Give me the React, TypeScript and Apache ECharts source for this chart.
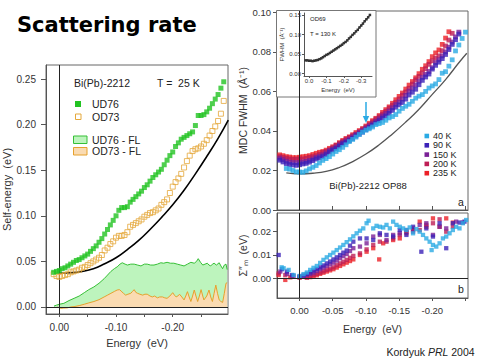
import React, { useEffect, useRef } from "react";
import * as echarts from "echarts";

// ---------- Left panel: self-energy, Bi(Pb)-2212, T = 25 K ----------
const E_LEFT = [0.010, 0.005, 0.000, -0.005, -0.010, -0.015, -0.020, -0.025, -0.030, -0.035, -0.040, -0.045, -0.050, -0.055, -0.060, -0.065, -0.070, -0.075, -0.080, -0.085, -0.090, -0.095, -0.100, -0.105, -0.110, -0.115, -0.120, -0.125, -0.130, -0.135, -0.140, -0.145, -0.150, -0.155, -0.160, -0.165, -0.170, -0.175, -0.180, -0.185, -0.190, -0.195, -0.200, -0.205, -0.210, -0.215, -0.220, -0.225, -0.230, -0.235, -0.240, -0.245, -0.250, -0.255, -0.260, -0.265, -0.270, -0.275, -0.280, -0.285, -0.290];
const UD76 = [0.038, 0.039, 0.040, 0.042, 0.043, 0.045, 0.047, 0.049, 0.051, 0.052, 0.054, 0.056, 0.058, 0.061, 0.064, 0.067, 0.071, 0.075, 0.080, 0.085, 0.090, 0.095, 0.100, 0.106, 0.109, 0.109, 0.110, 0.115, 0.118, 0.121, 0.124, 0.127, 0.131, 0.134, 0.138, 0.142, 0.145, 0.148, 0.151, 0.156, 0.161, 0.166, 0.170, 0.176, 0.180, 0.184, 0.186, 0.188, 0.190, 0.192, 0.199, 0.210, 0.210, 0.211, 0.214, 0.218, 0.223, 0.228, 0.233, 0.240, 0.247];
const OD73 = [0.036, 0.034, 0.033, 0.034, 0.035, 0.036, 0.038, 0.039, 0.040, 0.041, 0.043, 0.044, 0.046, 0.048, 0.050, 0.052, 0.054, 0.057, 0.062, 0.065, 0.069, 0.072, 0.076, 0.078, 0.078, 0.079, 0.082, 0.088, 0.090, 0.092, 0.094, 0.096, 0.099, 0.101, 0.103, 0.104, 0.106, 0.108, 0.112, 0.115, 0.118, 0.125, 0.132, 0.137, 0.141, 0.146, 0.153, 0.160, 0.166, 0.171, 0.173, 0.174, 0.176, 0.179, 0.183, 0.188, 0.193, 0.198, 0.204, 0.212, 0.226];
const FIT_LEFT_E = [0.0, -0.02, -0.04, -0.06, -0.08, -0.10, -0.12, -0.14, -0.16, -0.18, -0.20, -0.22, -0.24, -0.26, -0.28, -0.298];
const FIT_LEFT = [0.037, 0.0375, 0.039, 0.042, 0.0475, 0.054, 0.063, 0.073, 0.085, 0.098, 0.112, 0.128, 0.146, 0.165, 0.185, 0.205];
const UD76_FL: number[][] = [[0.0094, 0.001], [0.005, 0.002], [0, 0.003], [-0.008, 0.004], [-0.017, 0.007], [-0.026, 0.0095], [-0.035, 0.012], [-0.044, 0.0157], [-0.052, 0.019], [-0.061, 0.022], [-0.07, 0.026], [-0.079, 0.031], [-0.085, 0.035], [-0.091, 0.039], [-0.097, 0.042], [-0.102, 0.044], [-0.107, 0.047], [-0.111, 0.0485], [-0.116, 0.047], [-0.12, 0.046], [-0.126, 0.047], [-0.132, 0.047], [-0.138, 0.046], [-0.144, 0.045], [-0.15, 0.047], [-0.155, 0.047], [-0.161, 0.046], [-0.167, 0.046], [-0.173, 0.047], [-0.179, 0.0485], [-0.184, 0.048], [-0.19, 0.049], [-0.196, 0.048], [-0.202, 0.048], [-0.208, 0.047], [-0.214, 0.046], [-0.22, 0.045], [-0.226, 0.047], [-0.232, 0.049], [-0.238, 0.048], [-0.242, 0.05], [-0.245, 0.053], [-0.249, 0.049], [-0.253, 0.046], [-0.257, 0.047], [-0.261, 0.048], [-0.264, 0.046], [-0.267, 0.045], [-0.27, 0.047], [-0.273, 0.048], [-0.277, 0.046], [-0.282, 0.0485], [-0.285, 0.045], [-0.288, 0.042], [-0.291, 0.046], [-0.294, 0.047], [-0.296, 0.041]];
const OD73_FL: number[][] = [[0.0035, 0], [-0.002, -0.0015], [-0.008, -0.0012], [-0.014, -0.001], [-0.02, 0], [-0.026, 0.0004], [-0.035, 0.0015], [-0.044, 0.003], [-0.052, 0.0045], [-0.061, 0.006], [-0.07, 0.008], [-0.079, 0.011], [-0.085, 0.013], [-0.091, 0.015], [-0.097, 0.017], [-0.102, 0.0186], [-0.106, 0.019], [-0.109, 0.0175], [-0.113, 0.015], [-0.117, 0.013], [-0.121, 0.014], [-0.126, 0.015], [-0.129, 0.017], [-0.132, 0.019], [-0.135, 0.016], [-0.138, 0.015], [-0.142, 0.014], [-0.147, 0.013], [-0.151, 0.014], [-0.155, 0.014], [-0.16, 0.012], [-0.164, 0.011], [-0.168, 0.012], [-0.173, 0.01], [-0.177, 0.011], [-0.182, 0.011], [-0.186, 0.01], [-0.19, 0.0095], [-0.195, 0.012], [-0.2, 0.0157], [-0.203, 0.013], [-0.206, 0.011], [-0.209, 0.012], [-0.212, 0.014], [-0.216, 0.011], [-0.22, 0.0077], [-0.223, 0.012], [-0.226, 0.0168], [-0.229, 0.011], [-0.232, 0.006], [-0.235, 0.012], [-0.238, 0.0186], [-0.241, 0.012], [-0.244, 0.006], [-0.247, 0.012], [-0.25, 0.019], [-0.253, 0.012], [-0.255, 0.0077], [-0.26, 0.012], [-0.264, 0.0186], [-0.267, 0.011], [-0.27, 0.006], [-0.273, 0.015], [-0.276, 0.024], [-0.279, 0.015], [-0.282, 0.0077], [-0.285, 0.006], [-0.288, 0.005], [-0.291, 0.015], [-0.294, 0.026], [-0.296, 0.0266]];

// ---------- Right panel a: MDC FWHM, Bi(Pb)-2212 OP88 ----------
const E_A = [0.03, 0.02, 0.01, 0.0, -0.01, -0.02, -0.03, -0.04, -0.05, -0.06, -0.07, -0.08, -0.09, -0.10, -0.11, -0.12, -0.13, -0.14, -0.15, -0.16, -0.17, -0.18, -0.19, -0.20, -0.21, -0.22, -0.23, -0.24, -0.25];
const K40_A = [null, 0.0210, 0.0200, 0.0192, 0.0198, 0.0216, 0.0238, 0.0260, 0.0283, 0.0305, 0.0330, 0.0357, 0.0382, 0.0404, 0.0420, 0.0437, 0.0454, 0.0473, 0.0500, 0.0525, 0.0550, 0.0576, 0.0600, 0.0628, 0.0660, 0.0700, 0.0760, 0.0835, 0.0900];
const K90_A = [0.0252, 0.0235, 0.0228, 0.0229, 0.0236, 0.0250, 0.0263, 0.0280, 0.0303, 0.0323, 0.0343, 0.0362, 0.0384, 0.0406, 0.0429, 0.0452, 0.0476, 0.0504, 0.0532, 0.0561, 0.0596, 0.0634, 0.0673, 0.0713, 0.0748, 0.0787, 0.0838, 0.0890, null];
const K150_A = [0.0262, 0.0247, 0.0240, 0.0240, 0.0246, 0.0258, 0.0272, 0.0289, 0.0309, 0.0330, 0.0350, 0.0370, 0.0392, 0.0414, 0.0437, 0.0462, 0.0488, 0.0517, 0.0547, 0.0580, 0.0617, 0.0652, 0.0686, 0.0720, 0.0760, 0.0800, 0.0850, 0.0900, null];
const K200_A = [0.0270, 0.0262, 0.0256, 0.0257, 0.0261, 0.0270, 0.0282, 0.0297, 0.0315, 0.0337, 0.0358, 0.0376, 0.0397, 0.0420, 0.0446, 0.0472, 0.0500, 0.0530, 0.0562, 0.0597, 0.0637, 0.0676, 0.0715, 0.0755, 0.0780, 0.0830, 0.0894, null, null];
const K235_A = [0.0279, 0.0270, 0.0265, 0.0267, 0.0272, 0.0281, 0.0292, 0.0303, 0.0320, 0.0341, 0.0362, 0.0381, 0.0402, 0.0425, 0.0452, 0.0478, 0.0508, 0.0540, 0.0575, 0.0612, 0.0650, 0.0690, 0.0730, 0.0776, 0.0810, 0.0870, null, null, null];
// points read between the ones above
const E_A2 = [0.025, 0.015, 0.005, -0.005, -0.015, -0.025, -0.035, -0.045, -0.055, -0.065, -0.075, -0.085, -0.095, -0.105, -0.115, -0.125, -0.135, -0.145, -0.155, -0.165, -0.175, -0.185, -0.195, -0.205, -0.215, -0.225, -0.235, -0.245];
const K40_A2 = [null, 0.0207, 0.0193, 0.0191, 0.0208, 0.0225, 0.0251, 0.0270, 0.0296, 0.0317, 0.0346, 0.0369, 0.0394, 0.0411, 0.0432, 0.0443, 0.0466, 0.0483, 0.0514, 0.0535, 0.0566, 0.0584, 0.0617, 0.0638, 0.0692, 0.0728, 0.0805, 0.0868];
const K90_A2 = [0.0243, 0.0230, 0.0226, 0.0233, 0.0242, 0.0258, 0.0270, 0.0293, 0.0311, 0.0335, 0.0351, 0.0375, 0.0394, 0.0418, 0.0440, 0.0465, 0.0489, 0.0520, 0.0544, 0.0582, 0.0611, 0.0656, 0.0688, 0.0732, 0.0766, 0.0812, 0.0862, null];
const K150_A2 = [0.0255, 0.0242, 0.0239, 0.0243, 0.0251, 0.0266, 0.0279, 0.0300, 0.0319, 0.0341, 0.0359, 0.0382, 0.0402, 0.0426, 0.0449, 0.0476, 0.0501, 0.0534, 0.0562, 0.0602, 0.0633, 0.0671, 0.0701, 0.0745, 0.0780, 0.0824, 0.0876, null];
const K200_A2 = [0.0266, 0.0258, 0.0257, 0.0258, 0.0266, 0.0275, 0.0291, 0.0305, 0.0327, 0.0347, 0.0368, 0.0385, 0.0409, 0.0432, 0.0460, 0.0485, 0.0516, 0.0545, 0.0581, 0.0616, 0.0659, 0.0694, 0.0737, 0.0768, 0.0806, 0.0860, null, null];
const K235_A2 = [0.0275, 0.0268, 0.0265, 0.0270, 0.0275, 0.0287, 0.0296, 0.0312, 0.0329, 0.0352, 0.0370, 0.0392, 0.0412, 0.0439, 0.0464, 0.0494, 0.0522, 0.0558, 0.0592, 0.0632, 0.0669, 0.0712, 0.0751, 0.0795, 0.0838, 0.0902, null, null];
const FIT_A_E = [0.02, 0.0, -0.02, -0.04, -0.06, -0.08, -0.10, -0.12, -0.14, -0.16, -0.18, -0.20, -0.22, -0.24, -0.252];
const FIT_A = [0.0188, 0.0183, 0.0186, 0.0195, 0.0215, 0.0245, 0.0283, 0.0330, 0.0385, 0.0445, 0.0510, 0.0585, 0.0660, 0.0745, 0.0793];

// ---------- Right panel b: Σ''_m ----------
const K40_B: number[][] = [[0.027, 0.0047], [0.024, 0.0043], [0.0165, 0.0036], [0.009, 0.0014], [0.0, 0.001], [-0.006, 0.0018], [-0.011, 0.0025], [-0.016, 0.0036], [-0.021, 0.0045], [-0.026, 0.0053], [-0.031, 0.0066], [-0.036, 0.0079], [-0.041, 0.009], [-0.046, 0.01], [-0.051, 0.011], [-0.056, 0.0121], [-0.061, 0.0132], [-0.066, 0.0143], [-0.071, 0.0155], [-0.076, 0.0167], [-0.081, 0.018], [-0.086, 0.0193], [-0.091, 0.0204], [-0.096, 0.0214], [-0.101, 0.0236], [-0.104, 0.0247], [-0.111, 0.0214], [-0.116, 0.0225], [-0.121, 0.0221], [-0.126, 0.0218], [-0.131, 0.0229], [-0.136, 0.0214], [-0.141, 0.0243], [-0.146, 0.0229], [-0.151, 0.0221], [-0.156, 0.0214], [-0.161, 0.0207], [-0.166, 0.0218], [-0.171, 0.0193], [-0.176, 0.0211], [-0.181, 0.02], [-0.186, 0.0186], [-0.191, 0.0171], [-0.196, 0.0157], [-0.199, 0.0121], [-0.201, 0.0143], [-0.206, 0.0136], [-0.211, 0.015], [-0.216, 0.0171], [-0.221, 0.0179], [-0.226, 0.0193], [-0.231, 0.0207], [-0.236, 0.0221], [-0.241, 0.0214], [-0.246, 0.0236], [-0.251, 0.025]];
const K90_B: number[][] = [[0.0315, 0.01], [0.0265, 0.0039], [0.019, 0.0029], [0.0115, 0.0014], [0, 0.0007], [-0.006, 0.0012], [-0.011, 0.0019], [-0.016, 0.0026], [-0.021, 0.0033], [-0.026, 0.004], [-0.031, 0.0047], [-0.036, 0.0055], [-0.041, 0.0064], [-0.046, 0.0072], [-0.051, 0.0081], [-0.056, 0.009], [-0.061, 0.01], [-0.066, 0.011], [-0.071, 0.0119], [-0.076, 0.014], [-0.081, 0.0157], [-0.091, 0.0171], [-0.101, 0.0171], [-0.111, 0.0164], [-0.121, 0.0193], [-0.131, 0.0186], [-0.141, 0.0179], [-0.151, 0.0207], [-0.161, 0.0186], [-0.171, 0.0221], [-0.1835, 0.0114], [-0.191, 0.0214], [-0.201, 0.0179], [-0.211, 0.0236], [-0.221, 0.0129], [-0.231, 0.0236], [-0.241, 0.0239], [-0.2485, 0.0243]];
const K150_B: number[][] = [[0.029, 0.0029], [0.019, 0.0019], [0.009, 0.001], [0, 0.0007], [-0.006, 0.001], [-0.011, 0.0014], [-0.016, 0.0019], [-0.021, 0.0024], [-0.026, 0.0031], [-0.031, 0.0039], [-0.036, 0.0046], [-0.041, 0.0053], [-0.046, 0.006], [-0.051, 0.0067], [-0.056, 0.0076], [-0.061, 0.0086], [-0.066, 0.0095], [-0.071, 0.0104], [-0.076, 0.0117], [-0.081, 0.0129], [-0.091, 0.0136], [-0.101, 0.015], [-0.111, 0.0179], [-0.121, 0.0186], [-0.131, 0.0164], [-0.141, 0.0186], [-0.151, 0.0193], [-0.161, 0.0207], [-0.171, 0.02], [-0.181, 0.0229], [-0.191, 0.0236], [-0.201, 0.0186], [-0.211, 0.0221], [-0.221, 0.0214], [-0.236, 0.0243], [-0.246, 0.0239]];
const K200_B: number[][] = [[0.0315, 0.0021], [0.0215, 0.0014], [0.0115, 0.0007], [0, 0.0004], [-0.011, 0.0004], [-0.016, 0.0009], [-0.021, 0.0014], [-0.026, 0.0019], [-0.031, 0.0024], [-0.036, 0.003], [-0.041, 0.0036], [-0.046, 0.0041], [-0.051, 0.0047], [-0.056, 0.0056], [-0.061, 0.0064], [-0.066, 0.0071], [-0.071, 0.0079], [-0.076, 0.0088], [-0.081, 0.0096], [-0.091, 0.0107], [-0.101, 0.0124], [-0.111, 0.0143], [-0.121, 0.0157], [-0.131, 0.0157], [-0.141, 0.0171], [-0.151, 0.0186], [-0.161, 0.02], [-0.171, 0.0214], [-0.181, 0.0207], [-0.191, 0.0229], [-0.201, 0.0236], [-0.211, 0.0253], [-0.221, 0.02], [-0.231, 0.0221]];
const K235_B: number[][] = [[0.0315, 0.0014], [0.0215, -0.0007], [0.014, 0.0004], [0, 0.0003], [-0.011, 0.0003], [-0.016, 0.0005], [-0.021, 0.0007], [-0.026, 0.0013], [-0.031, 0.0019], [-0.036, 0.0024], [-0.041, 0.0029], [-0.046, 0.0034], [-0.051, 0.0039], [-0.056, 0.0046], [-0.061, 0.0053], [-0.066, 0.006], [-0.071, 0.0067], [-0.076, 0.0074], [-0.081, 0.0081], [-0.091, 0.01], [-0.101, 0.0114], [-0.111, 0.0129], [-0.12, 0.0081], [-0.126, 0.015], [-0.141, 0.0164], [-0.151, 0.0171], [-0.161, 0.0193], [-0.171, 0.0207], [-0.181, 0.0243], [-0.191, 0.0221], [-0.201, 0.0257], [-0.211, 0.0221], [-0.221, 0.0257], [-0.231, 0.0239]];

// ---------- Inset: OD69, T = 130 K ----------
const E_INSET = [0.02, 0.01, 0.0, -0.01, -0.02, -0.03, -0.04, -0.05, -0.06, -0.07, -0.08, -0.09, -0.10, -0.11, -0.12, -0.13, -0.14, -0.15, -0.16, -0.17, -0.18, -0.19, -0.20, -0.21, -0.22, -0.23, -0.24, -0.25, -0.26, -0.27, -0.28, -0.29, -0.30, -0.31, -0.32, -0.33, -0.34, -0.35];
const FWHM_INSET = [0.034, 0.034, 0.033, 0.033, 0.032, 0.033, 0.034, 0.035, 0.037, 0.039, 0.042, 0.045, 0.048, 0.050, 0.053, 0.056, 0.059, 0.062, 0.065, 0.068, 0.071, 0.074, 0.078, 0.081, 0.085, 0.090, 0.094, 0.099, 0.103, 0.108, 0.112, 0.118, 0.123, 0.128, 0.134, 0.139, 0.144, 0.150];

// tick labels
const LEFT_X_LABELS = [0, -0.1, -0.2];
const LEFT_X_TICKS = [0, -0.05, -0.1, -0.15, -0.2, -0.25];
const LEFT_Y_TICKS = [0, 0.05, 0.1, 0.15, 0.2, 0.25];
const RIGHT_X_TICKS = [0, -0.05, -0.1, -0.15, -0.2, -0.25];
const RIGHT_X_LABELS = [0, -0.05, -0.1, -0.15, -0.2];
const A_Y_TICKS = [0, 0.02, 0.04, 0.06, 0.08, 0.1];
const B_Y_TICKS = [0, 0.01, 0.02];
const INSET_X_TICKS = [0, -0.1, -0.2, -0.3];
const INSET_Y_TICKS = [0, 0.05, 0.1, 0.15];

const TEMPS = ["40 K", "90 K", "150 K", "200 K", "235 K"];
const TEMP_COLORS = ["#2AAAE4", "#3B22B8", "#7A2196", "#BE1E55", "#EC2027"];

const FONT = "'Liberation Sans', Arial, sans-serif";

const pairs = (xs: number[], ys: (number | null)[]) => {
  const out: number[][] = [];
  xs.forEach((x, i) => {
    const y = ys[i];
    if (y !== null && y !== undefined) out.push([x, y]);
  });
  return out;
};
const fmt = (d: number) => (v: number) => (Math.abs(v) < 1e-9 ? 0 : v).toFixed(d);

const AXIS_COLOR = "#555";

function xAxis(grid: number, min: number, max: number, ticks: number[], labels: number[] | null, opts: any = {}) {
  return {
    type: "value",
    gridIndex: grid,
    inverse: true,
    min,
    max,
    splitLine: { show: false },
    axisLine: { show: true, onZero: false, lineStyle: { color: AXIS_COLOR, width: 1 } },
    axisTick: { show: true, customValues: ticks, length: opts.tickLen ?? 3, inside: !!opts.tickInside, lineStyle: { color: AXIS_COLOR } },
    axisLabel: labels
      ? { show: true, customValues: labels, formatter: fmt(opts.dec ?? 2), fontSize: opts.fontSize ?? 10, color: "#333", fontFamily: FONT, margin: opts.margin ?? 7 }
      : { show: false },
    name: opts.name ?? "",
    nameLocation: "middle",
    nameGap: opts.nameGap ?? 22,
    nameTextStyle: { fontSize: opts.nameSize ?? 11, color: "#333", fontFamily: FONT },
    z: opts.z ?? 0,
  };
}
function yAxis(grid: number, min: number, max: number, ticks: number[], opts: any = {}) {
  return {
    type: "value",
    gridIndex: grid,
    min,
    max,
    splitLine: { show: false },
    axisLine: { show: true, onZero: false, lineStyle: { color: AXIS_COLOR, width: 1 } },
    axisTick: { show: true, customValues: ticks, length: opts.tickLen ?? 4, lineStyle: { color: AXIS_COLOR } },
    axisLabel: { show: true, customValues: ticks, formatter: fmt(opts.dec ?? 2), fontSize: opts.fontSize ?? 10, color: "#333", fontFamily: FONT, margin: opts.margin ?? 8 },
    name: opts.name ?? "",
    nameLocation: "middle",
    nameGap: opts.nameGap ?? 26,
    nameTextStyle: { fontSize: opts.nameSize ?? 11, color: "#333", fontFamily: FONT },
    z: opts.z ?? 0,
  };
}

const zeroLine = (lines: any[]) => ({
  silent: true,
  symbol: "none",
  label: { show: false },
  lineStyle: { color: "#222", width: 1, type: "solid" },
  emphasis: { disabled: true },
  data: lines,
});

const txt = (x: number, y: number, text: string, size: number, extra: any = {}) => ({
  type: "text",
  x,
  y,
  z: extra.z ?? 20,
  style: {
    text,
    fontSize: size,
    fontFamily: extra.fontFamily ?? FONT,
    fontWeight: extra.fontWeight ?? "normal",
    fill: extra.fill ?? "#222",
    align: extra.align ?? "left",
    verticalAlign: "middle",
    rich: extra.rich,
  },
});

export default function App() {
  const ref = useRef<HTMLDivElement>(null);
  useEffect(() => {
    if (!ref.current) return;
    const chart = echarts.init(ref.current, null, { renderer: "svg" });

    const aMain = [K40_A, K90_A, K150_A, K200_A, K235_A];
    const aHalf = [K40_A2, K90_A2, K150_A2, K200_A2, K235_A2];
    const aSeries = [4, 3, 2, 1, 0].map((k) => ({
      type: "scatter",
      name: TEMPS[k],
      xAxisIndex: 1,
      yAxisIndex: 1,
      symbol: "rect",
      symbolSize: 4.8,
      itemStyle: { color: TEMP_COLORS[k] },
      data: [...pairs(E_A, aMain[k]), ...pairs(E_A2, aHalf[k])],
      z: 3,
      silent: true,
    }));
    const bData = [K40_B, K90_B, K150_B, K200_B, K235_B];
    const bSeries = [4, 3, 2, 1, 0].map((k) => ({
      type: "scatter",
      name: TEMPS[k] + " b",
      xAxisIndex: 2,
      yAxisIndex: 2,
      symbol: "rect",
      symbolSize: 4.3,
      itemStyle: { color: TEMP_COLORS[k] },
      data: bData[k],
      z: 3,
      silent: true,
    }));

    const option: any = {
      animation: false,
      backgroundColor: "#fff",
      grid: [
        { left: 46, top: 65, width: 182, height: 249, show: true, borderColor: "#666", borderWidth: 1, backgroundColor: "transparent" },
        { left: 277, top: 11, width: 191, height: 199, show: true, borderColor: "#666", borderWidth: 1, backgroundColor: "transparent" },
        { left: 277, top: 213, width: 191, height: 85, show: true, borderColor: "#666", borderWidth: 1, backgroundColor: "transparent" },
        { left: 304, top: 13, width: 68, height: 63, show: false },
      ],
      xAxis: [
        xAxis(0, -0.2975, 0.0235, LEFT_X_TICKS, LEFT_X_LABELS, { name: "Energy  (eV)", nameGap: 23, margin: 8, tickLen: 3 }),
        xAxis(1, -0.2538, 0.034, RIGHT_X_TICKS, null, { tickInside: true, tickLen: 4 }),
        xAxis(2, -0.2538, 0.034, RIGHT_X_TICKS, RIGHT_X_LABELS, { name: "Energy  (eV)", nameGap: 25, fontSize: 9.5, margin: 7, nameSize: 10.5 }),
        xAxis(3, -0.362, 0.029, INSET_X_TICKS, INSET_X_TICKS, { name: "Energy  (eV)", nameGap: 11, fontSize: 6, nameSize: 6, dec: 1, margin: 2, tickLen: 2, z: 10 }),
      ],
      yAxis: [
        yAxis(0, -0.0077, 0.2654, LEFT_Y_TICKS, { name: "Self-energy  (eV)", nameGap: 27, margin: 10, tickLen: 5 }),
        yAxis(1, 0, 0.1007, A_Y_TICKS, { name: "MDC FWHM  (Å⁻¹)", nameGap: 24, fontSize: 9.5, margin: 6, nameSize: 10.5 }),
        yAxis(2, -0.00845, 0.028, B_Y_TICKS, { name: "Σ″ₘ  (eV)", nameGap: 25, fontSize: 9.5, margin: 6, nameSize: 10.5 }),
        yAxis(3, -0.006, 0.155, INSET_Y_TICKS, { name: "FWHM  (Å⁻¹)", nameGap: 16, fontSize: 6, nameSize: 6, margin: 3, tickLen: 2, z: 10 }),
      ],
      series: [
        // left panel
        {
          type: "line",
          name: "UD76 - FL",
          xAxisIndex: 0,
          yAxisIndex: 0,
          data: UD76_FL,
          symbol: "none",
          lineStyle: { color: "#36C036", width: 1 },
          areaStyle: { color: "#BDF4BD", opacity: 1 },
          z: 2,
          silent: true,
          markLine: zeroLine([{ xAxis: 0 }, { yAxis: 0 }]),
        },
        {
          type: "line",
          name: "OD73 - FL",
          xAxisIndex: 0,
          yAxisIndex: 0,
          data: OD73_FL,
          symbol: "none",
          lineStyle: { color: "#E6A12C", width: 1 },
          areaStyle: { color: "#FADBB2", opacity: 1 },
          z: 3,
          silent: true,
        },
        {
          type: "line",
          name: "FL fit",
          xAxisIndex: 0,
          yAxisIndex: 0,
          data: pairs(FIT_LEFT_E, FIT_LEFT),
          symbol: "none",
          smooth: true,
          lineStyle: { color: "#000", width: 1.6 },
          z: 4,
          silent: true,
        },
        {
          type: "scatter",
          name: "OD73",
          xAxisIndex: 0,
          yAxisIndex: 0,
          data: pairs(E_LEFT, OD73),
          symbol: "rect",
          symbolSize: 5,
          itemStyle: { color: "rgba(255,255,255,0)", borderColor: "#E5A83A", borderWidth: 1 },
          z: 5,
          silent: true,
        },
        {
          type: "scatter",
          name: "UD76",
          xAxisIndex: 0,
          yAxisIndex: 0,
          data: pairs(E_LEFT, UD76),
          symbol: "rect",
          symbolSize: 5,
          itemStyle: { color: "#22C322" },
          z: 6,
          silent: true,
        },
        // panel a
        {
          type: "line",
          name: "fit a",
          xAxisIndex: 1,
          yAxisIndex: 1,
          data: pairs(FIT_A_E, FIT_A),
          symbol: "none",
          smooth: true,
          lineStyle: { color: "#555", width: 1.3 },
          z: 2,
          silent: true,
          markLine: zeroLine([{ xAxis: 0 }]),
        },
        ...aSeries,
        // panel b
        ...bSeries,
        {
          type: "line",
          name: "zero b",
          xAxisIndex: 2,
          yAxisIndex: 2,
          data: [],
          z: 2,
          silent: true,
          markLine: zeroLine([{ xAxis: 0 }, { yAxis: 0 }]),
        },
        // inset
        {
          type: "line",
          name: "OD69",
          xAxisIndex: 3,
          yAxisIndex: 3,
          data: pairs(E_INSET, FWHM_INSET),
          symbol: "rect",
          symbolSize: 2.5,
          showAllSymbol: true,
          itemStyle: { color: "#333" },
          lineStyle: { color: "#444", width: 1.2 },
          z: 12,
          silent: true,
        },
      ],
      graphic: [
        txt(17, 25, "Scattering rate", 21, { fontFamily: "'DejaVu Sans', sans-serif", fontWeight: "bold", fill: "#000" }),
        // left annotations
        txt(74, 83, "Bi(Pb)-2212", 10.5),
        txt(157, 83, "T =  25 K", 10.5),
        { type: "rect", z: 20, shape: { x: 75, y: 101, width: 6, height: 6 }, style: { fill: "#22C322" } },
        txt(92, 104, "UD76", 10.5),
        { type: "rect", z: 20, shape: { x: 75.5, y: 114, width: 5.5, height: 5.5 }, style: { fill: "#fff", stroke: "#E5A83A", lineWidth: 1 } },
        txt(92, 117, "OD73", 10.5),
        { type: "rect", z: 20, shape: { x: 73.5, y: 136, width: 13.5, height: 7.5 }, style: { fill: "#BDF4BD", stroke: "#36C036", lineWidth: 1 } },
        txt(92, 139.5, "UD76 - FL", 10.5),
        { type: "rect", z: 20, shape: { x: 73.5, y: 147.5, width: 13.5, height: 7.5 }, style: { fill: "#FADBB2", stroke: "#E6A12C", lineWidth: 1 } },
        txt(92, 151, "OD73 - FL", 10.5),
        // inset box
        { type: "rect", z: 5, shape: { x: 276.5, y: 10.5, width: 99.5, height: 86.5 }, style: { fill: "#fff", stroke: "#777", lineWidth: 1 } },
        txt(310, 19, "OD69", 6, { z: 21 }),
        txt(310, 34, "T = 130 K", 6, { z: 21 }),
        // panel a annotations
        txt(368, 185, "Bi(Pb)-2212 OP88", 9.5, { align: "center" }),
        txt(458, 202, "a", 10.5),
        txt(458, 289, "b", 10.5),
        ...TEMPS.map((t, i) => ({ type: "rect", z: 20, shape: { x: 424.5, y: 136 + i * 9.3 - 2.3, width: 4.6, height: 4.6 }, style: { fill: TEMP_COLORS[i] } })),
        ...TEMPS.map((t, i) => txt(433, 136 + i * 9.3, t, 9)),
        // arrow
        { type: "line", z: 20, shape: { x1: 366, y1: 102, x2: 366, y2: 117 }, style: { stroke: "#2AAAE4", lineWidth: 1.5 } },
        { type: "polygon", z: 20, shape: { points: [[362.8, 116], [369.2, 116], [366, 123]] }, style: { fill: "#2AAAE4" } },
        // credit
        txt(386.5, 352, "{n|Kordyuk }{i|PRL}{n| 2004}", 11, {
          rich: {
            n: { fontSize: 10.5, fontFamily: FONT, fill: "#222" },
            i: { fontSize: 10.5, fontFamily: FONT, fontStyle: "italic", fill: "#222" },
          },
        }),
      ],
    };
    chart.setOption(option);
    return () => chart.dispose();
  }, []);
  return <div ref={ref} style={{ position: "fixed", left: 0, top: 0, width: 480, height: 360, background: "#fff" }} />;
}
